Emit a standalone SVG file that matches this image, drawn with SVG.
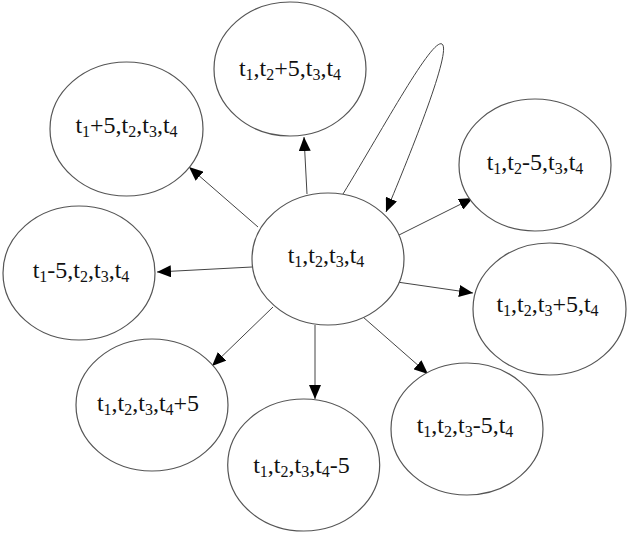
<svg xmlns="http://www.w3.org/2000/svg" width="629" height="536" viewBox="0 0 629 536">
<style>
.n{fill:#fff;stroke:#555;stroke-width:1.2}
.e{fill:none;stroke:#444;stroke-width:1}
text{font-family:'Liberation Serif','Times New Roman',serif;font-size:24px;fill:#111;text-anchor:middle}
.s{font-size:16px}
</style>
<defs>
<marker id="ar" viewBox="0 0 14 12" refX="14" refY="6" markerWidth="14" markerHeight="12" markerUnits="userSpaceOnUse" orient="auto">
<path d="M0,0 L14,6 L0,12 Z" fill="#000"/>
</marker>
</defs>
<g id="edges">
<line class="e" x1="307" y1="194" x2="304" y2="137" marker-end="url(#ar)"/>
<line class="e" x1="258" y1="227" x2="189" y2="167" marker-end="url(#ar)"/>
<line class="e" x1="252" y1="267" x2="157" y2="272" marker-end="url(#ar)"/>
<line class="e" x1="399" y1="235" x2="473" y2="198" marker-end="url(#ar)"/>
<line class="e" x1="397" y1="282" x2="473" y2="293" marker-end="url(#ar)"/>
<line class="e" x1="363" y1="317" x2="428" y2="374" marker-end="url(#ar)"/>
<line class="e" x1="315" y1="325" x2="315" y2="399" marker-end="url(#ar)"/>
<line class="e" x1="273" y1="307" x2="212" y2="366" marker-end="url(#ar)"/>
<path class="e" d="M343,194 C385,125 432,38 442,44 C452,50 412,150 386,212" marker-end="url(#ar)"/>
</g>
<g id="n0"><ellipse class="n" cx="328" cy="259" rx="76" ry="66"/>
<text x="326" y="263">t<tspan class="s" dy="4">1</tspan><tspan dy="-4">,t</tspan><tspan class="s" dy="4">2</tspan><tspan dy="-4">,t</tspan><tspan class="s" dy="4">3</tspan><tspan dy="-4">,t</tspan><tspan class="s" dy="4">4</tspan></text></g>
<g id="n1"><ellipse class="n" cx="290" cy="69" rx="76" ry="67"/>
<text x="290" y="76">t<tspan class="s" dy="4">1</tspan><tspan dy="-4">,t</tspan><tspan class="s" dy="4">2</tspan><tspan dy="-4">+5,t</tspan><tspan class="s" dy="4">3</tspan><tspan dy="-4">,t</tspan><tspan class="s" dy="4">4</tspan></text></g>
<g id="n2"><ellipse class="n" cx="126.5" cy="129" rx="76.5" ry="67"/>
<text x="126.5" y="133">t<tspan class="s" dy="4">1</tspan><tspan dy="-4">+5,t</tspan><tspan class="s" dy="4">2</tspan><tspan dy="-4">,t</tspan><tspan class="s" dy="4">3</tspan><tspan dy="-4">,t</tspan><tspan class="s" dy="4">4</tspan></text></g>
<g id="n3"><ellipse class="n" cx="79" cy="273" rx="76" ry="67"/>
<text x="81" y="278">t<tspan class="s" dy="4">1</tspan><tspan dy="-4">-5,t</tspan><tspan class="s" dy="4">2</tspan><tspan dy="-4">,t</tspan><tspan class="s" dy="4">3</tspan><tspan dy="-4">,t</tspan><tspan class="s" dy="4">4</tspan></text></g>
<g id="n4"><ellipse class="n" cx="535" cy="165" rx="76" ry="66"/>
<text x="535" y="170">t<tspan class="s" dy="4">1</tspan><tspan dy="-4">,t</tspan><tspan class="s" dy="4">2</tspan><tspan dy="-4">-5,t</tspan><tspan class="s" dy="4">3</tspan><tspan dy="-4">,t</tspan><tspan class="s" dy="4">4</tspan></text></g>
<g id="n5"><ellipse class="n" cx="549.5" cy="309" rx="76.5" ry="66"/>
<text x="547.5" y="312">t<tspan class="s" dy="4">1</tspan><tspan dy="-4">,t</tspan><tspan class="s" dy="4">2</tspan><tspan dy="-4">,t</tspan><tspan class="s" dy="4">3</tspan><tspan dy="-4">+5,t</tspan><tspan class="s" dy="4">4</tspan></text></g>
<g id="n6"><ellipse class="n" cx="467" cy="429" rx="76" ry="66"/>
<text x="465" y="433">t<tspan class="s" dy="4">1</tspan><tspan dy="-4">,t</tspan><tspan class="s" dy="4">2</tspan><tspan dy="-4">,t</tspan><tspan class="s" dy="4">3</tspan><tspan dy="-4">-5,t</tspan><tspan class="s" dy="4">4</tspan></text></g>
<g id="n7"><ellipse class="n" cx="303.7" cy="465" rx="76" ry="66"/>
<text x="301.5" y="473">t<tspan class="s" dy="4">1</tspan><tspan dy="-4">,t</tspan><tspan class="s" dy="4">2</tspan><tspan dy="-4">,t</tspan><tspan class="s" dy="4">3</tspan><tspan dy="-4">,t</tspan><tspan class="s" dy="4">4</tspan><tspan dy="-4">-5</tspan></text></g>
<g id="n8"><ellipse class="n" cx="152" cy="405" rx="76" ry="66"/>
<text x="148" y="411">t<tspan class="s" dy="4">1</tspan><tspan dy="-4">,t</tspan><tspan class="s" dy="4">2</tspan><tspan dy="-4">,t</tspan><tspan class="s" dy="4">3</tspan><tspan dy="-4">,t</tspan><tspan class="s" dy="4">4</tspan><tspan dy="-4">+5</tspan></text></g>
</svg>
